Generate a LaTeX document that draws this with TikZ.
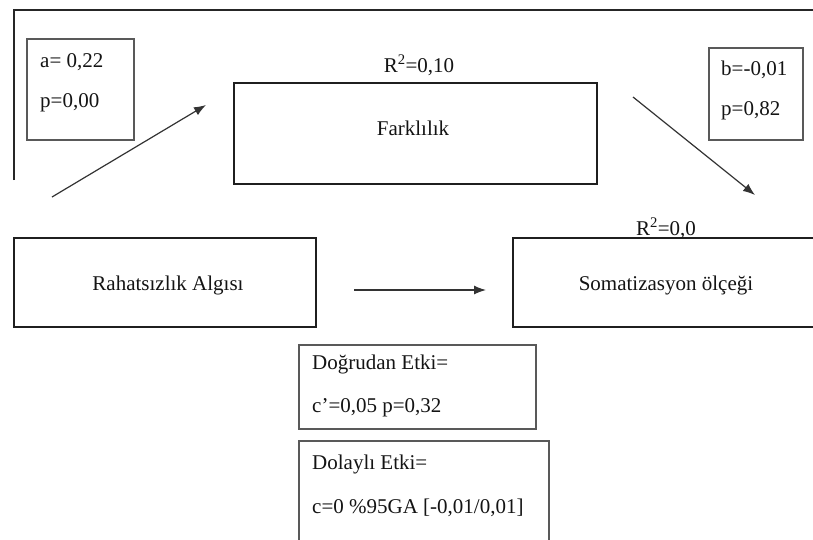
\documentclass[tikz,border=0pt]{standalone}
\usepackage{fontspec}
\setmainfont{Liberation Serif}
\usetikzlibrary{arrows.meta}
\begin{document}
\begin{tikzpicture}[x=1pt,y=-1pt,
  txt/.style={inner sep=0pt,font=\fontsize{21pt}{25pt}\selectfont,text=black!92},
  mainbox/.style={draw=black!88,line width=2pt,inner sep=0pt},
  statbox/.style={draw=black!65,line width=1.1pt,inner sep=0pt},
  frameline/.style={draw=black!85,line width=2pt},
  patharrow/.style={draw=black!80,line width=1.2pt,-{Latex[length=12pt,width=9pt]}}
]
\useasboundingbox (0,0) rectangle (813,539);
\clip (0,0) rectangle (813,539);
\fill[white] (0,0) rectangle (813,539);

% open outer frame
\coordinate (fbot) at (14,180);
\coordinate (fcorner) at (14,10);
\coordinate (fright) at (830,10);
\draw[frameline] (fbot) -- (fcorner) -- (fright);

% variable boxes
\node[mainbox,minimum width=363pt,minimum height=101pt] (fark) at (415.5,133.5) {};
\node[mainbox,minimum width=302pt,minimum height=89pt] (rahat) at (165,282.5) {};
\node[mainbox,minimum width=320pt,minimum height=89pt] (soma) at (673,282.5) {};

\node[txt,anchor=base] (farktxt) at (413,135) {Farklılık};
\node[txt,anchor=base] (rahattxt) at (168,290) {Rahatsızlık Algısı};
\node[txt,anchor=base] (somatxt) at (666,290) {Somatizasyon ölçeği};

% explained variance
\node[txt,anchor=base] (rsq1) at (419,72) {R\textsuperscript{2}=0,10};
\node[txt,anchor=base] (rsq2) at (666,235) {R\textsuperscript{2}=0,0};

% path coefficients
\node[statbox,minimum width=107pt,minimum height=101pt] (abox) at (80.5,89.5) {};
\node[txt,anchor=base west] (a1) at (40,67) {a= 0,22};
\node[txt,anchor=base west] (a2) at (40,107) {p=0,00};

\node[statbox,minimum width=94pt,minimum height=92pt] (bbox) at (756,94) {};
\node[txt,anchor=base west] (b1) at (721,75) {b=-0,01};
\node[txt,anchor=base west] (b2) at (721,115) {p=0,82};

% effect summaries
\node[statbox,minimum width=237pt,minimum height=84pt] (direct) at (417.5,387) {};
\node[txt,anchor=base west] (d1) at (312,369) {Doğrudan Etki=};
\node[txt,anchor=base west] (d2) at (312,412) {c'=0,05 p=0,32};

\node[statbox,minimum width=250pt,minimum height=110pt] (indirect) at (424,496) {};
\node[txt,anchor=base west] (i1) at (312,469) {Dolaylı Etki=};
\node[txt,anchor=base west] (i2) at (312,513) {c=0 \%95GA [-0,01/0,01]};

% arrows
\coordinate (aS) at (52,197);
\coordinate (aE) at (206,105);
\coordinate (bS) at (633,97);
\coordinate (bE) at (755,195);
\coordinate (cS) at (354,290);
\coordinate (cE) at (486,290);
\draw[patharrow] (aS) -- (aE);
\draw[patharrow] (bS) -- (bE);
\draw[patharrow] (cS) -- (cE);
\end{tikzpicture}
\end{document}
